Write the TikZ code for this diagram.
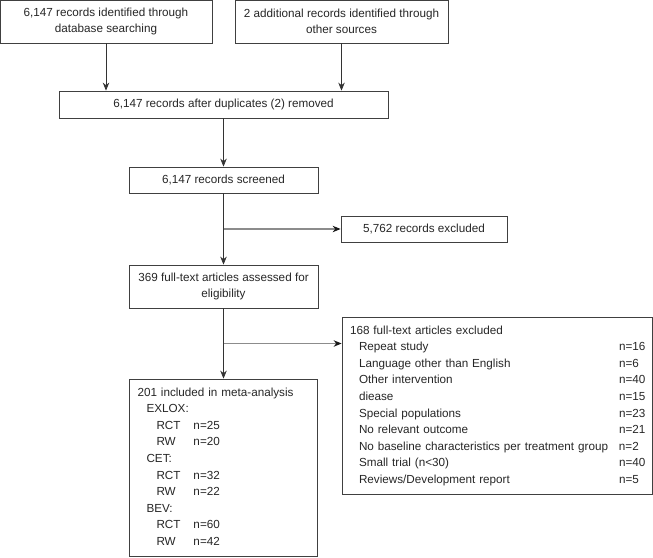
\documentclass[tikz,border=0pt]{standalone}
\usepackage{fontspec}
\setmainfont{Liberation Sans}
\usetikzlibrary{arrows.meta, positioning, calc}

\begin{document}
\begin{tikzpicture}[x=1pt, y=-1pt,
            font=\fontsize{11.7}{16.6}\selectfont, text=black!85,
            stage/.style={draw=black!75, line width=0.8pt, align=center, inner sep=0pt},
            listing/.style={stage, align=left, inner xsep=8pt, inner ysep=0pt},
            flow/.style={-{Stealth[length=8pt, width=6.5pt]}, line width=0.8pt, black!80},
            sideflow/.style={-{Stealth[length=8pt, width=6.5pt, black!90]}, line width=1.1pt, black!45}]

            \useasboundingbox (0,0) rectangle (653,557);

            % Identification
            \node[stage, minimum width=212pt, minimum height=43pt] (db) at (106,21.5) {6,147 records identified through\\database searching};
            \node[stage, minimum width=213pt, minimum height=43pt] (other) at (341.5,21.5) {2 additional records identified through\\other sources};

            % Screening
            \node[stage, minimum width=329pt, minimum height=27pt] (dup) at (223.5,104.5) {6,147 records after duplicates (2) removed};
            \node[stage, minimum width=189pt, minimum height=26pt] (screen) at (223.5,180) {6,147 records screened};
            \node[stage, minimum width=166pt, minimum height=26pt] (excl) at (424,229) {5,762 records excluded};

            % Eligibility
            \node[stage, minimum width=189pt, minimum height=43pt] (full) at (223.5,286.5) {369 full-text articles assessed for\\eligibility};
            \node[listing, text width=294.5pt, minimum height=177pt] (ftexcl) at (497.25,405.5) {%
                \begin{tabular}{@{}p{269pt}@{}l@{}}
                \multicolumn{2}{@{}l@{}}{168 full-text articles excluded}\\
                \hspace*{9pt}Repeat study & n=16\\
                \hspace*{9pt}Language other than English & n=6\\
                \hspace*{9pt}Other intervention & n=40\\
                \hspace*{9pt}diease & n=15\\
                \hspace*{9pt}Special populations & n=23\\
                \hspace*{9pt}No relevant outcome & n=21\\
                \hspace*{9pt}No baseline characteristics per treatment group & n=2\\
                \hspace*{9pt}Small trial (n<30) & n=40\\
                \hspace*{9pt}Reviews/Development report & n=5
                \end{tabular}};

            % Included
            \node[listing, text width=172pt, minimum height=177pt] (incl) at (223.5,467.5) {%
                \begin{tabular}{@{}p{56pt}@{}l@{}}
                \multicolumn{2}{@{}l@{}}{201 included in meta-analysis}\\
                \multicolumn{2}{@{}l@{}}{\hspace*{9pt}EXLOX:}\\
                \hspace*{19pt}RCT & n=25\\
                \hspace*{19pt}RW & n=20\\
                \multicolumn{2}{@{}l@{}}{\hspace*{9pt}CET:}\\
                \hspace*{19pt}RCT & n=32\\
                \hspace*{19pt}RW & n=22\\
                \multicolumn{2}{@{}l@{}}{\hspace*{9pt}BEV:}\\
                \hspace*{19pt}RCT & n=60\\
                \hspace*{19pt}RW & n=42
                \end{tabular}};

            % Branch points
            \coordinate (fork1) at ($(screen.south)!0.5!(full.north)$);
            \coordinate (fork2) at ($(full.south)!0.5!(incl.north)$);

            % Flow arrows
            \draw[flow] (db.south) -- (db.south |- dup.north);
            \draw[flow] (other.south) -- (other.south |- dup.north);
            \draw[flow] (dup.south) -- (screen.north);
            \draw[flow] (screen.south) -- (full.north);
            \draw[flow] (full.south) -- (incl.north);
            \draw[sideflow] (fork1) -- (excl.west);
            \draw[sideflow] (fork2) -- (fork2 -| ftexcl.west);
        \end{tikzpicture}
\end{document}
